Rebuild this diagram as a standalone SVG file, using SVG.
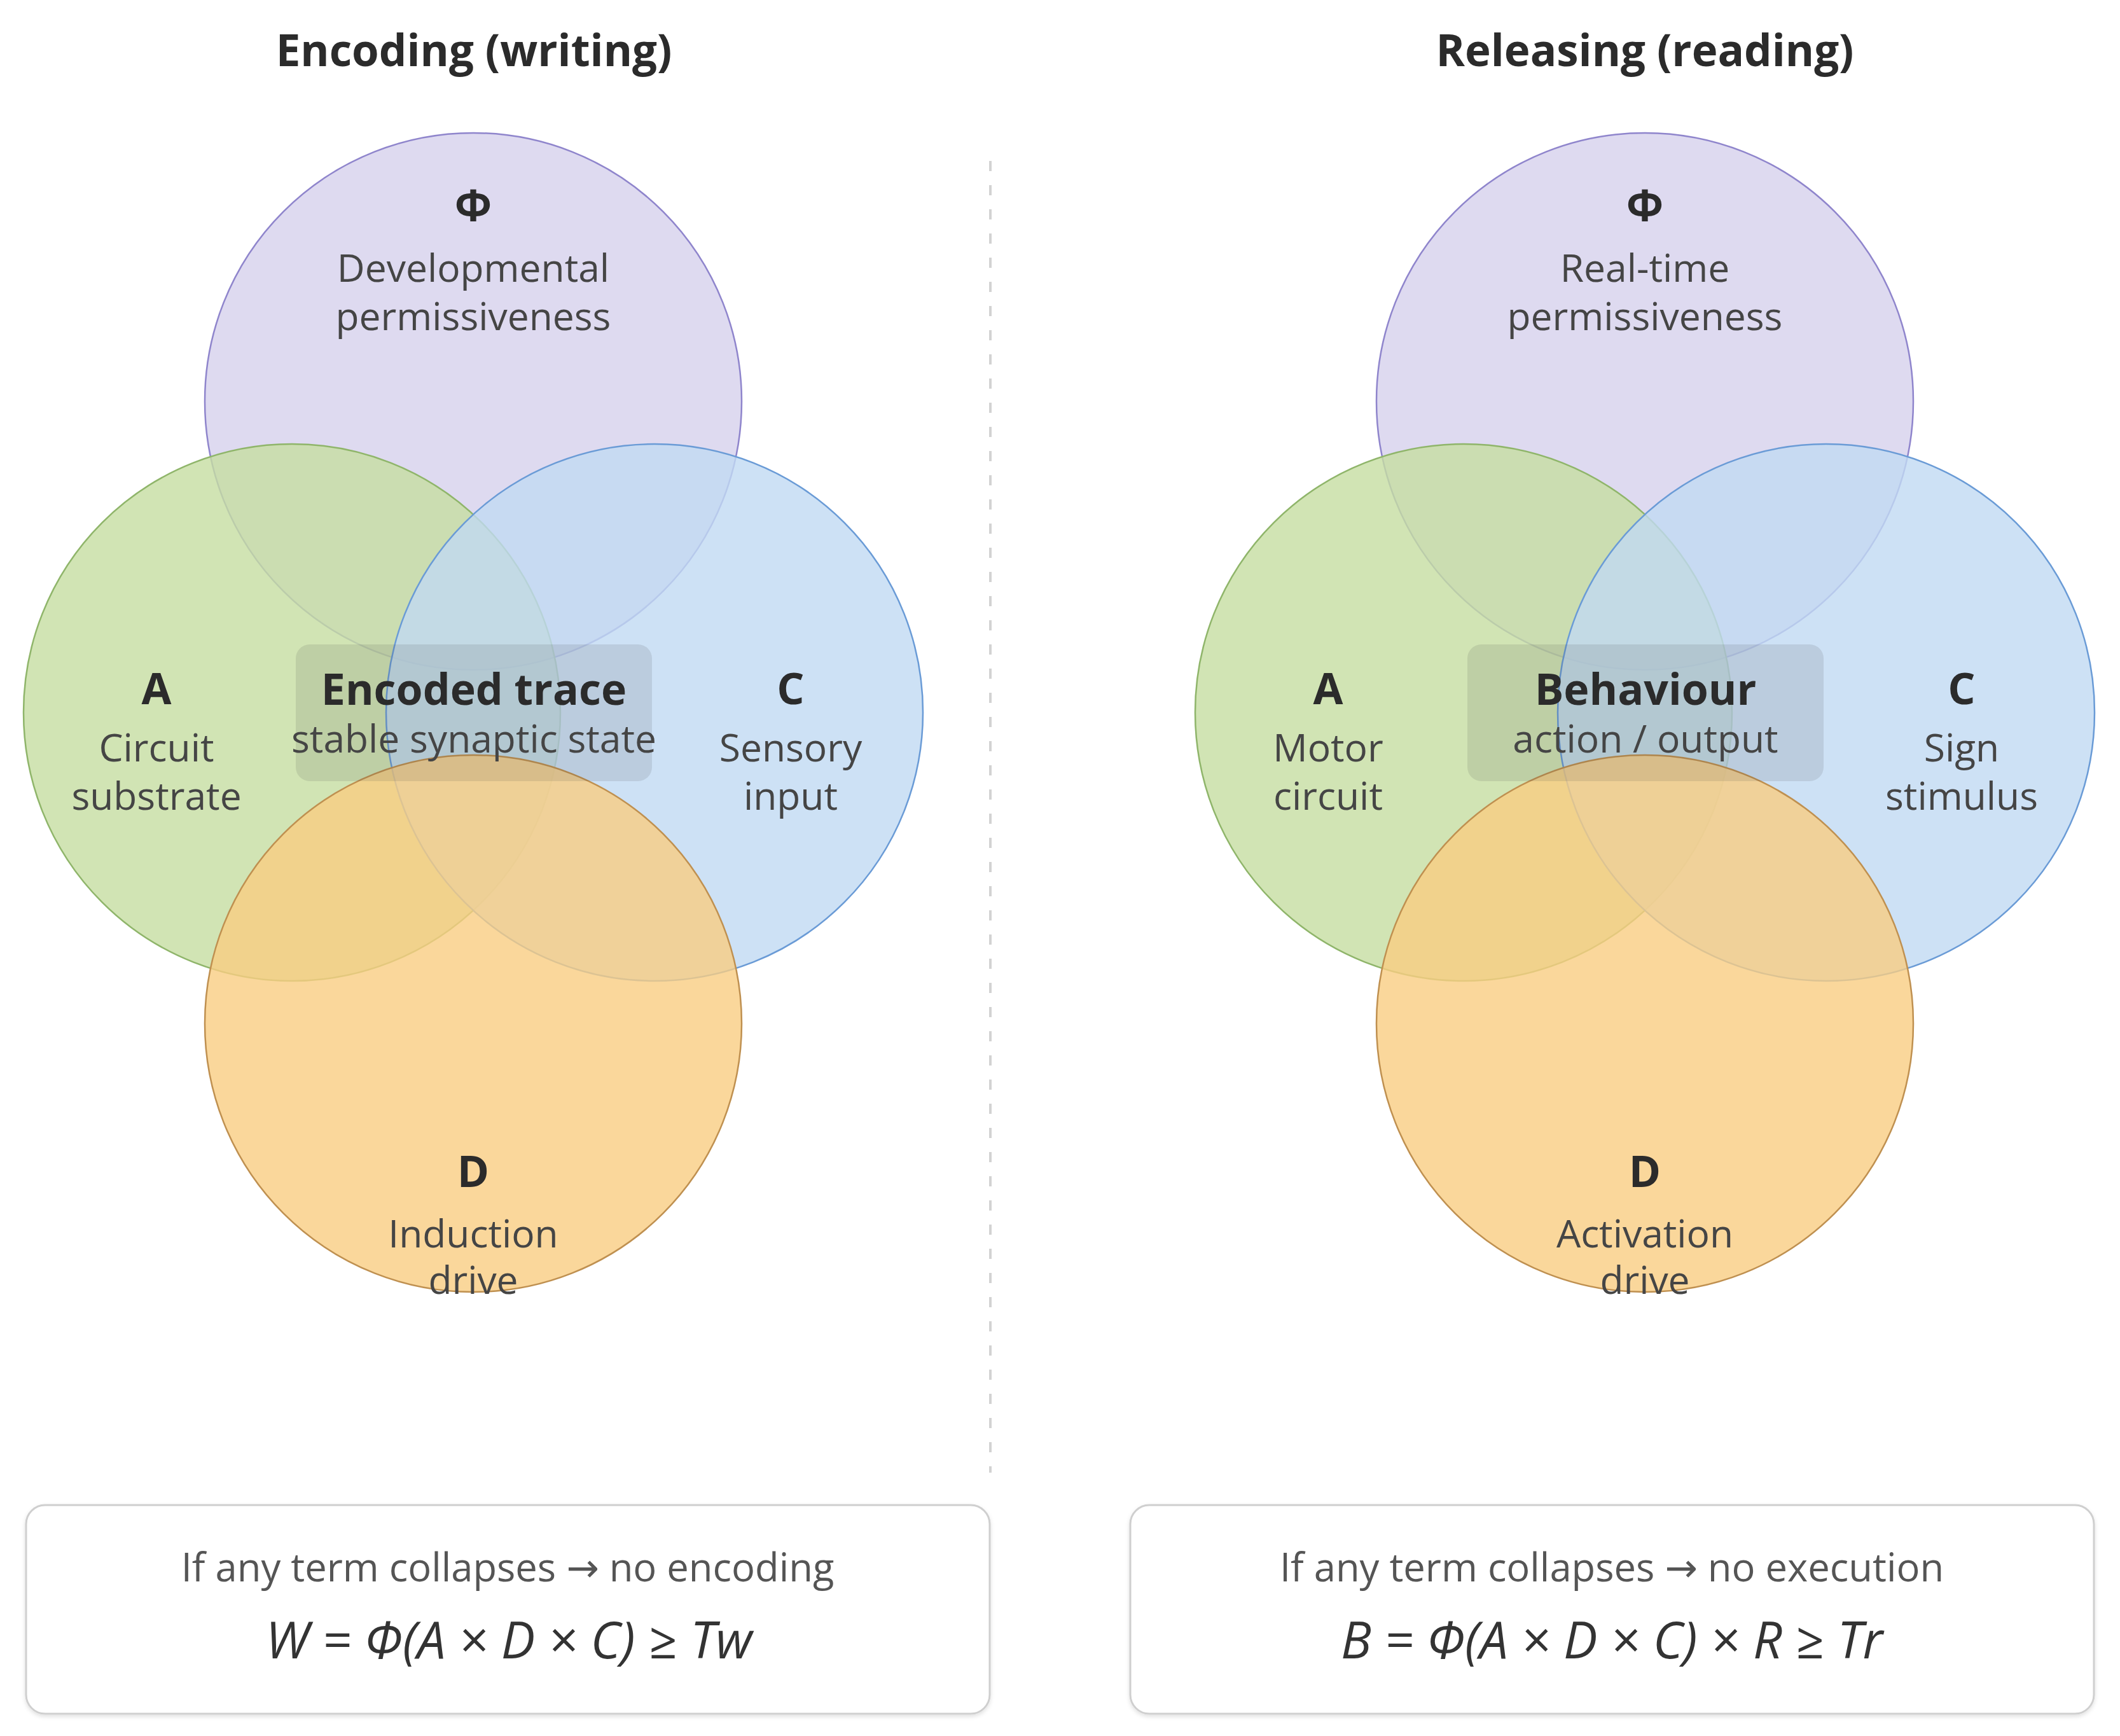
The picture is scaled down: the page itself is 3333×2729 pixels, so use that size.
<svg xmlns="http://www.w3.org/2000/svg" width="3333" height="2729" viewBox="0 0 3333 2729">
<defs>
<style>
.bg{fill:#ffffff}
.circ{stroke-width:2.5;fill-opacity:0.8}
.phi{fill:#d6d1ec;stroke:#8f85cc}
.a{fill:#c5dda1;stroke:#8fb56a}
.c{fill:#c1daf3;stroke:#6a9bd6}
.d{fill:#f9cd82;stroke:#bf9050}
.title{font-family:"Open Sans","Noto Sans","DejaVu Sans",sans-serif;font-weight:700;font-size:69px;fill:#2b2b2b;text-anchor:middle}
.sym{font-family:"Open Sans","Noto Sans","DejaVu Sans",sans-serif;font-weight:700;font-size:68px;fill:#2b2b2b;text-anchor:middle}
.desc{font-family:"Open Sans","Noto Sans","DejaVu Sans",sans-serif;font-size:60.5px;fill:#454545;text-anchor:middle}
.ctr{font-family:"Open Sans","Noto Sans","DejaVu Sans",sans-serif;font-weight:700;font-size:68px;fill:#2b2b2b;text-anchor:middle}
.ctrbox{fill:#3c3c3c;fill-opacity:0.12}
.fbox{fill:#ffffff;stroke:#cfcfcf;stroke-width:3}
.note{font-family:"Open Sans","Noto Sans","DejaVu Sans",sans-serif;font-size:61.5px;fill:#555555;text-anchor:middle}
.formula{font-family:"Open Sans","Noto Sans","DejaVu Sans",sans-serif;font-style:italic;font-size:80px;fill:#333333;text-anchor:middle}
.divider{stroke:#d3d3d3;stroke-width:4;stroke-dasharray:16 22;fill:none}
</style>
<filter id="shadow" x="-5%" y="-10%" width="110%" height="125%">
<feDropShadow dx="0" dy="3" stdDeviation="3" flood-color="#000000" flood-opacity="0.12"/>
</filter>
</defs>
<rect class="bg" x="0" y="0" width="3333" height="2729"/>

<g id="titles">
<text class="title" x="745" y="104">Encoding (writing)</text>
<text class="title" x="2586" y="104">Releasing (reading)</text>
</g>

<g id="connectors">
<line class="divider" x1="1557" y1="253" x2="1557" y2="2315"/>
</g>

<g id="left-phi">
<circle class="circ phi" cx="744" cy="631" r="422"/>
<text class="sym" x="744" y="347">Φ</text>
<text class="desc" x="744" y="443">Developmental</text>
<text class="desc" x="744" y="519">permissiveness</text>
</g>
<g id="left-a">
<circle class="circ a" cx="459" cy="1120" r="422"/>
<text class="sym" x="246" y="1107">A</text>
<text class="desc" x="246" y="1197">Circuit</text>
<text class="desc" x="246" y="1273">substrate</text>
</g>
<g id="left-c">
<circle class="circ c" cx="1029" cy="1120" r="422"/>
<text class="sym" x="1243" y="1107">C</text>
<text class="desc" x="1243" y="1197">Sensory</text>
<text class="desc" x="1243" y="1273">input</text>
</g>
<g id="left-d">
<circle class="circ d" cx="744" cy="1609" r="422"/>
<text class="sym" x="744" y="1866">D</text>
<text class="desc" x="744" y="1961">Induction</text>
<text class="desc" x="744" y="2034">drive</text>
</g>
<g id="left-center">
<rect class="ctrbox" x="465" y="1013" width="560" height="215" rx="22"/>
<text class="ctr" x="745" y="1108">Encoded trace</text>
<text class="desc" x="745" y="1183">stable synaptic state</text>
</g>

<g id="right-phi">
<circle class="circ phi" cx="2586" cy="631" r="422"/>
<text class="sym" x="2586" y="347">Φ</text>
<text class="desc" x="2586" y="443">Real-time</text>
<text class="desc" x="2586" y="519">permissiveness</text>
</g>
<g id="right-a">
<circle class="circ a" cx="2301" cy="1120" r="422"/>
<text class="sym" x="2088" y="1107">A</text>
<text class="desc" x="2088" y="1197">Motor</text>
<text class="desc" x="2088" y="1273">circuit</text>
</g>
<g id="right-c">
<circle class="circ c" cx="2871" cy="1120" r="422"/>
<text class="sym" x="3084" y="1107">C</text>
<text class="desc" x="3084" y="1197">Sign</text>
<text class="desc" x="3084" y="1273">stimulus</text>
</g>
<g id="right-d">
<circle class="circ d" cx="2586" cy="1609" r="422"/>
<text class="sym" x="2586" y="1866">D</text>
<text class="desc" x="2586" y="1961">Activation</text>
<text class="desc" x="2586" y="2034">drive</text>
</g>
<g id="right-center">
<rect class="ctrbox" x="2307" y="1013" width="560" height="215" rx="22"/>
<text class="ctr" x="2587" y="1108">Behaviour</text>
<text class="desc" x="2587" y="1183">action / output</text>
</g>

<g id="left-formula">
<rect class="fbox" filter="url(#shadow)" x="41" y="2366" width="1515" height="328" rx="30"/>
<text class="note" x="798" y="2486">If any term collapses → no encoding</text>
<text class="formula" x="800" y="2607">W = Φ(A × D × C) ≥ Tw</text>
</g>
<g id="right-formula">
<rect class="fbox" filter="url(#shadow)" x="1777" y="2366" width="1515" height="328" rx="30"/>
<text class="note" x="2534" y="2486">If any term collapses → no execution</text>
<text class="formula" x="2534" y="2607">B = Φ(A × D × C) × R ≥ Tr</text>
</g>
</svg>
